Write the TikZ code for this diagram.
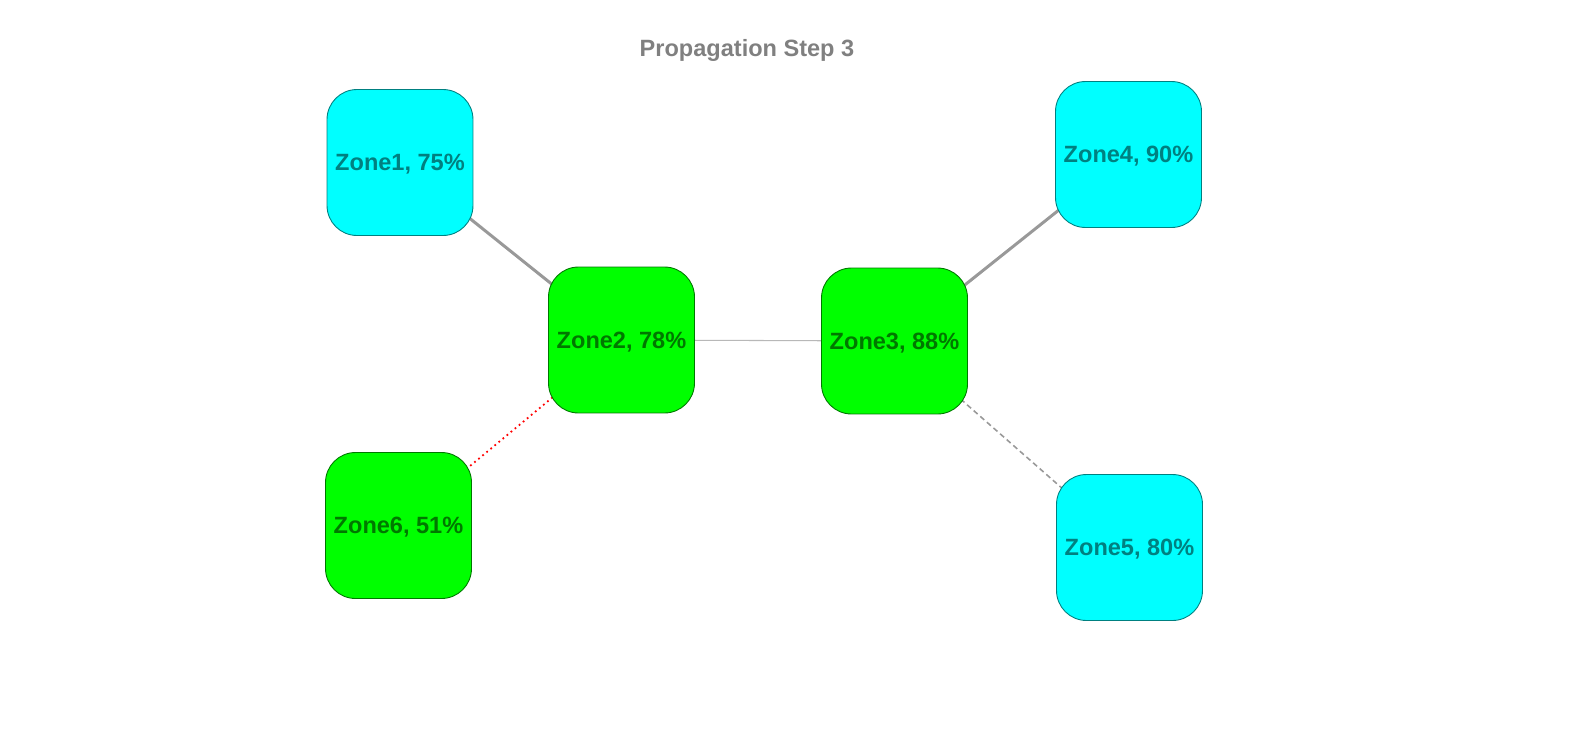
\documentclass[tikz,border=0pt]{standalone}
\usepackage{fontspec}
\setmainfont{Liberation Sans}
\usetikzlibrary{positioning,backgrounds}

\definecolor{zcyan}{RGB}{0,255,255}
\definecolor{zgreen}{RGB}{0,255,0}
\definecolor{ztealtext}{RGB}{0,128,128}
\definecolor{zgreentext}{RGB}{0,120,0}
\definecolor{zedge}{RGB}{153,153,153}

\begin{document}
\begin{tikzpicture}[x=0.02cm,y=-0.02cm,
        zone/.style={rectangle,rounded corners=0.6cm,minimum width=2.92cm,
                     minimum height=2.92cm,inner sep=0pt,line width=0.5pt,text depth=0pt,
                     font=\fontsize{13.4}{16}\selectfont\bfseries},
        cyanzone/.style={zone,fill=zcyan,draw=ztealtext,text=ztealtext},
        greenzone/.style={zone,fill=zgreen,draw=zgreentext,text=zgreentext},
        strong/.style={draw=zedge,line width=1.7pt},
        weak/.style={draw=zedge!70,line width=0.6pt},
        uncertain/.style={draw=zedge,line width=0.9pt,dash pattern=on 3pt off 2pt},
        broken/.style={draw=red,line width=1pt,dash pattern=on 1pt off 2pt}]

        \useasboundingbox (0,0) rectangle (1583,751);

        \node[font=\fontsize{13.4}{16}\selectfont\bfseries,text=gray,text depth=0pt] (title) at (747,48) {Propagation Step 3};

        \node[cyanzone] (z1) at (400,162.5) {Zone1, 75\%};
        \node[greenzone] (z2) at (621.5,340) {Zone2, 78\%};
        \node[greenzone] (z3) at (894.5,341) {Zone3, 88\%};
        \node[cyanzone] (z4) at (1128.5,154.5) {Zone4, 90\%};
        \node[cyanzone] (z5) at (1129.5,547.5) {Zone5, 80\%};
        \node[greenzone] (z6) at (398.5,525.5) {Zone6, 51\%};

        \begin{pgfonlayer}{background}
        \path (z1.center) edge[strong] (z2.center)
              (z2.center) edge[weak] (z3.center)
                          edge[broken] (z6.center)
              (z3.center) edge[strong] (z4.center)
                          edge[uncertain] (z5.center);
        \end{pgfonlayer}
      \end{tikzpicture}
\end{document}
